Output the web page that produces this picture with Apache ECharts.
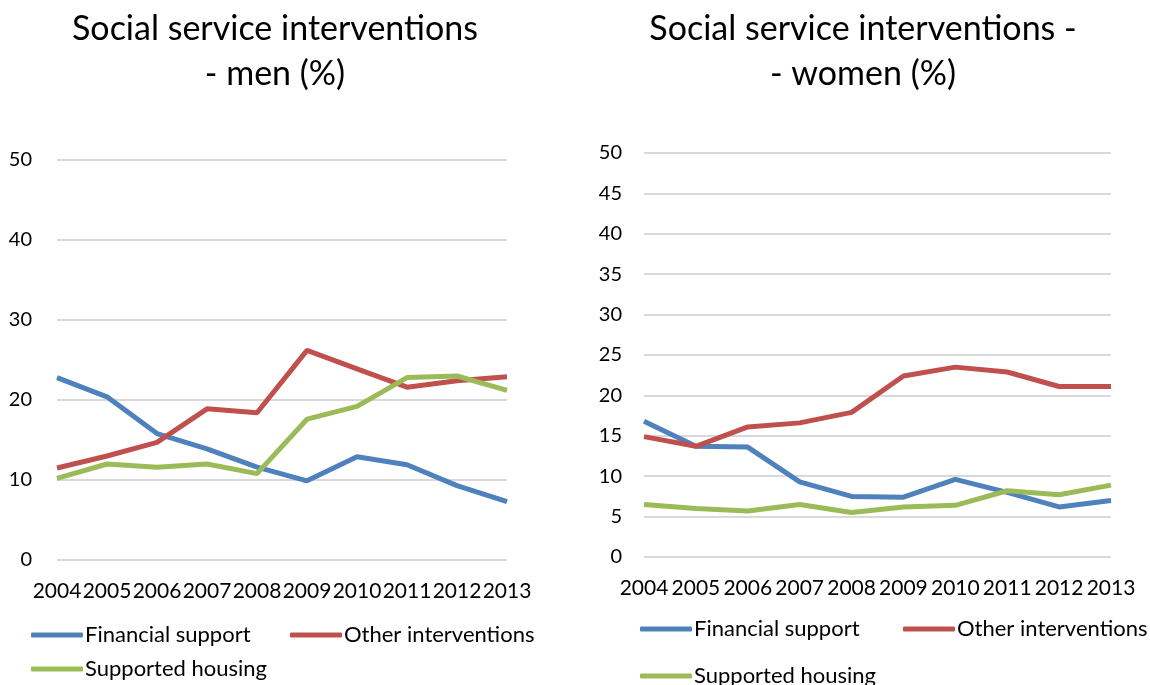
<!DOCTYPE html>
<html>
<head>
<meta charset="utf-8">
<script src="https://cdn.jsdelivr.net/npm/echarts@6/dist/echarts.min.js"></script>
<style>
html,body{margin:0;padding:0;background:#fff;}
#main{width:1150px;height:685px;}
</style>
</head>
<body>
<div id="main"></div>
<script>
var years = ['2004','2005','2006','2007','2008','2009','2010','2011','2012','2013'];
var seriesNames = ['Financial support','Other interventions','Supported housing'];
var colors = ['#4F81BD','#C0504D','#9BBB59'];

// men (%)
var menFinancial = [22.8, 20.4, 15.8, 13.9, 11.6, 9.9, 12.9, 11.9, 9.3, 7.3];
var menOther     = [11.5, 13.0, 14.7, 18.9, 18.4, 26.2, 23.9, 21.6, 22.4, 22.9];
var menHousing   = [10.2, 12.0, 11.6, 12.0, 10.8, 17.6, 19.2, 22.8, 23.0, 21.2];

// women (%)
var womenFinancial = [16.8, 13.7, 13.6, 9.3, 7.5, 7.4, 9.6, 8.0, 6.2, 7.0];
var womenOther     = [14.9, 13.7, 16.1, 16.6, 17.9, 22.4, 23.5, 22.9, 21.1, 21.1];
var womenHousing   = [6.5, 6.0, 5.7, 6.5, 5.5, 6.2, 6.4, 8.2, 7.7, 8.9];

var font = 'Lato';
var myChart = echarts.init(document.getElementById('main'));

function xAxisFor(idx){
    return {
        type:'category', gridIndex:idx, boundaryGap:false, data:years,
        axisLine:{show:false}, axisTick:{show:false},
        axisLabel:{color:'#000', fontSize:21, fontFamily:font, margin:21, interval:0}
    };
}
function yAxisFor(idx, interval, margin){
    return {
        type:'value', gridIndex:idx, min:0, max:50, interval:interval,
        axisLine:{show:false}, axisTick:{show:false},
        axisLabel:{color:'#000', fontSize:20, fontFamily:font, margin:margin},
        splitLine:{lineStyle:{color:'#D9D9D9', width:2}}
    };
}
function lineSeries(name, data, idx, color){
    return {
        type:'line', name:name, xAxisIndex:idx, yAxisIndex:idx, data:data,
        symbol:'none', animation:false,
        lineStyle:{color:color, width:5}, itemStyle:{color:color}
    };
}
function legendAt(name, left, top){
    return {
        data:[name], left:left, top:top, icon:'roundRect',
        itemWidth:52, itemHeight:5, itemGap:0,
        textStyle:{color:'#000', fontSize:22, fontFamily:font, padding:[0,0,0,-3]}
    };
}

var option = {
    backgroundColor:'#fff',
    color: colors,
    title:[
        {text:'Social service interventions\n- men (%)', left:270, top:2, textAlign:'center',
         textStyle:{fontSize:34, fontWeight:'normal', color:'#000', fontFamily:font, lineHeight:45}},
        {text:'Social service interventions -\n- women (%)', left:858, top:2, textAlign:'center',
         textStyle:{fontSize:34, fontWeight:'normal', color:'#000', fontFamily:font, lineHeight:45}}
    ],
    grid:[
        {left:57, top:160, width:450, height:400},
        {left:644, top:153, width:467, height:404}
    ],
    xAxis:[xAxisFor(0), xAxisFor(1)],
    yAxis:[yAxisFor(0, 10, 25), yAxisFor(1, 5, 22)],
    legend:[
        legendAt(seriesNames[0], 26, 619),
        legendAt(seriesNames[1], 285, 619),
        legendAt(seriesNames[2], 26, 653),
        legendAt(seriesNames[0], 635, 613),
        legendAt(seriesNames[1], 898, 613),
        legendAt(seriesNames[2], 635, 660)
    ],
    series:[
        lineSeries(seriesNames[0], menFinancial, 0, colors[0]),
        lineSeries(seriesNames[1], menOther, 0, colors[1]),
        lineSeries(seriesNames[2], menHousing, 0, colors[2]),
        lineSeries(seriesNames[0], womenFinancial, 1, colors[0]),
        lineSeries(seriesNames[1], womenOther, 1, colors[1]),
        lineSeries(seriesNames[2], womenHousing, 1, colors[2])
    ]
};
myChart.setOption(option);
</script>
</body>
</html>
